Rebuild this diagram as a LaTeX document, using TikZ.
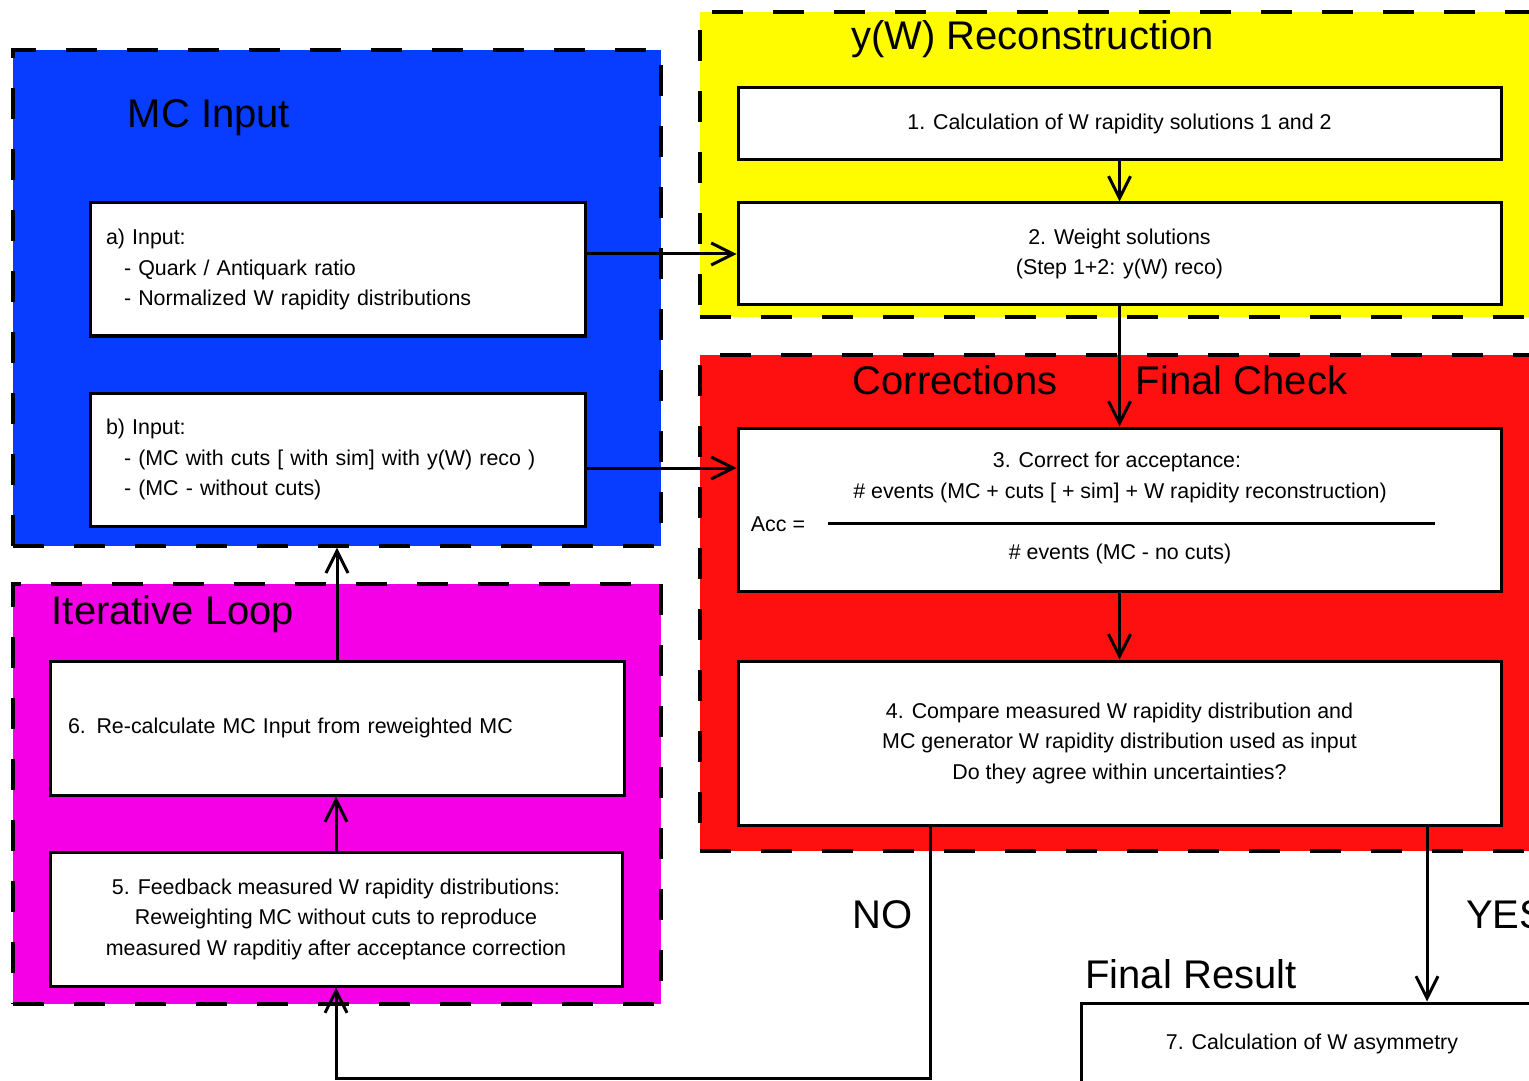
\documentclass[tikz,border=0pt]{standalone}
\usepackage{fontspec}
\setmainfont{Liberation Sans}
\usetikzlibrary{arrows.meta,positioning}

\definecolor{mcblue}{RGB}{8,60,255}
\definecolor{recoyellow}{RGB}{255,252,0}
\definecolor{corrred}{RGB}{255,16,16}
\definecolor{loopmagenta}{RGB}{245,0,230}

\begin{document}
\begin{tikzpicture}[
			x = 0.5pt, y = -0.5pt,
			every node/.style = {font = \fontsize{10.7}{15.25}\selectfont},
			region/.style = {draw, line width = 1.7pt, dash pattern = on 15.5pt off 15pt, inner sep = 0pt},
			box/.style = {draw, fill = white, line width = 1.5pt, inner sep = 0pt},
			leftbox/.style = {box, inner xsep = 8pt, align = left},
			title/.style = {font = \fontsize{20}{24}\selectfont, anchor = base},
			arr/.style = {line width = 1.5pt, -{Straight Barb[length=11pt,width=11pt]}}
			]

			\useasboundingbox (0,0) rectangle (1529,1080);
			\clip (0,0) rectangle (1529,1080);

			\def\boxw{381.5pt}

			\node[region, fill = mcblue, minimum width = 324pt, minimum height = 248pt] (mcin) at (337,298) {};
			\node[region, fill = recoyellow, minimum width = 422.5pt, minimum height = 152.5pt] (reco) at (1122.5,164.5) {};
			\node[region, fill = corrred, minimum width = 422.5pt, minimum height = 248pt] (corr) at (1122.5,603) {};
			\node[region, fill = loopmagenta, minimum width = 324pt, minimum height = 210pt] (loop) at (337,794) {};

			\node[title] (mctitle) at (209,128) {MC Input};
			\node[title] (recotitle) at (1032.5,50) {y(W) Reconstruction};
			\node[title] (corrtitle) at (955,394) {Corrections};
			\node[title] (checktitle) at (1241.5,394) {Final Check};
			\node[title] (looptitle) at (173,624) {Iterative Loop};
			\node[title] (restitle) at (1191,988) {Final Result};

			\node[leftbox, minimum width = 247.5pt, minimum height = 66.5pt, text width = 231.5pt] (ina) at (337.5,269.5)
				{a) Input:\\ \hspace*{9pt}- Quark / Antiquark ratio\\ \hspace*{9pt}- Normalized W rapidity distributions};
			\node[leftbox, minimum width = 247.5pt, minimum height = 66.5pt, text width = 231.5pt] (inb) at (337.5,459.5)
				{b) Input:\\ \hspace*{9pt}- (MC with cuts [ with sim] with y(W) reco )\\ \hspace*{9pt}- (MC - without cuts)};

			\node[box, minimum width = \boxw, minimum height = 36pt] (calc) at (1119.5,124)
				{1. Calculation of W rapidity solutions 1 and 2};
			\node[box, align = center, minimum width = \boxw, minimum height = 51pt] (weight) at (1119.5,254)
				{2. Weight solutions\\ (Step 1+2: y(W) reco)};
			\node[box, minimum width = \boxw, minimum height = 81.5pt] (acc) at (1119.5,509.5) {};
			\node (acctext) at (1117,462) {3. Correct for acceptance:};
			\node (accnum) at (1120,493) {\# events (MC + cuts [ + sim] + W rapidity reconstruction)};
			\node (accden) at (1120,554) {\# events (MC - no cuts)};
			\node (acclabel) at (778,524) {Acc =};
			\draw[line width = 1.5pt] (828,523) -- (1435,523);
			\node[box, align = center, minimum width = \boxw, minimum height = 82pt] (compare) at (1119.5,743)
				{4. Compare measured W rapidity distribution and\\ MC generator W rapidity distribution used as input\\ Do they agree within uncertainties?};

			\node[box, align = center, minimum width = 286pt, minimum height = 67pt] (feedback) at (336,919)
				{5. Feedback measured W rapidity distributions:\\ Reweighting MC without cuts to reproduce\\ measured W rapditiy after acceptance correction};
			\node[leftbox, inner xsep = 9pt, minimum width = 287pt, minimum height = 67pt, text width = 269pt] (recalc) at (337,728)
				{6. Re-calculate MC Input from reweighted MC};

			\node[box, minimum width = 231pt, minimum height = 41pt] (asym) at (1312,1044)
				{7. Calculation of W asymmetry};

			\node[title] (no) at (882.5,928) {NO};
			\node[title, anchor = base west] (yes) at (1459,928) {YES};

			\coordinate (noturn) at (930,1078);
			\coordinate (yesline) at (1427,0);
			\coordinate (bout) at ([yshift=-4.25pt]inb.east);

			\draw[arr] (calc) -- (weight);
			\draw[arr] (weight) -- (acc);
			\draw[arr] (acc) -- (compare);
			\draw[arr] (ina.east |- weight.west) -- (weight.west);
			\draw[arr] (bout) -- (bout -| acc.west);
			\draw[arr] (feedback.north) -- (feedback.north |- recalc.south);
			\draw[arr] (recalc.north) -- (mcin.south);
			\draw[arr] (compare.south -| noturn) -- (noturn) -| (feedback.south);
			\draw[arr] (compare.south -| yesline) -- (asym.north -| yesline);

		\end{tikzpicture}
\end{document}
